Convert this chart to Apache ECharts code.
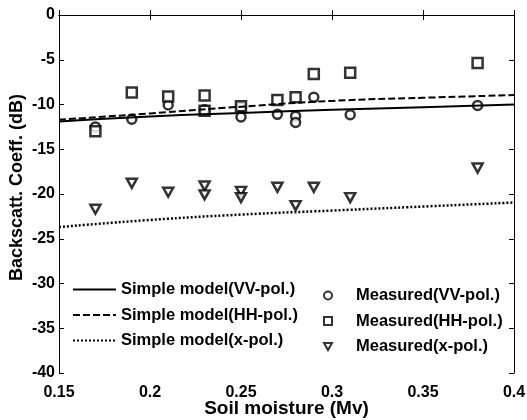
<!DOCTYPE html>
<html>
<head>
<meta charset="utf-8">
<script src="https://cdn.jsdelivr.net/npm/echarts@6/dist/echarts.min.js"></script>
<style>
  html, body { margin: 0; padding: 0; background: #fff; }
  #chart { width: 527px; height: 420px; }
</style>
</head>
<body>
<div id="chart"></div>
<script>
// soil moisture grid for the model curves
const modelX = [0.15, 0.2, 0.25, 0.3, 0.35, 0.4];
const modelVV = [-11.9, -11.35, -10.95, -10.6, -10.3, -10.0];
const modelHH = [-11.7, -11.0, -10.25, -9.6, -9.25, -8.95];
const modelX_pol = [-23.7, -22.9, -22.3, -21.85, -21.4, -20.95];

// measured points
const vvX = [0.17, 0.19, 0.21, 0.23, 0.25, 0.25, 0.27, 0.28, 0.28, 0.29, 0.31, 0.38];
const vvY = [-12.5, -11.65, -10.05, -10.6, -10.3, -11.4, -11.1, -11.3, -12.0, -9.2, -11.15, -10.1];
const hhX = [0.17, 0.19, 0.21, 0.23, 0.23, 0.25, 0.27, 0.28, 0.29, 0.31, 0.38];
const hhY = [-13.0, -8.65, -9.1, -9.0, -10.7, -10.2, -9.5, -9.2, -6.6, -6.45, -5.35];
const xpX = [0.17, 0.19, 0.21, 0.23, 0.23, 0.25, 0.25, 0.27, 0.28, 0.29, 0.31, 0.38];
const xpY = [-21.7, -18.8, -19.8, -19.1, -20.1, -19.7, -20.4, -19.25, -21.3, -19.25, -20.4, -17.1];

const xTicks = [0.15, 0.2, 0.25, 0.3, 0.35, 0.4];
const yTicks = [-40, -35, -30, -25, -20, -15, -10, -5, 0];

const font = '"Liberation Sans", Arial, sans-serif';

function pairs(xs, ys) {
  return xs.map((x, i) => [x, ys[i]]);
}

const chart = echarts.init(document.getElementById('chart'));

const lineAxis = {
  lineStyle: { color: '#000', width: 1 }
};
const tickIn = { show: true, inside: true, length: 5, lineStyle: { color: '#000' } };

const hollow = { color: '#fff', borderColor: '#000', borderWidth: 2.5 };
const triangle = 'path://M0,0L10,0L5,9Z';

chart.setOption({
  backgroundColor: '#fff',
  animation: false,
  grid: { left: 59, right: 13, top: 15, bottom: 47, outerBoundsMode: 'none' },
  xAxis: [
    {
      type: 'value',
      position: 'bottom',
      min: xTicks[0],
      max: xTicks[xTicks.length - 1],
      interval: 0.05,
      name: 'Soil moisture (Mv)',
      nameLocation: 'middle',
      nameGap: 26,
      nameMoveOverlap: false,
      nameTextStyle: { fontFamily: font, fontWeight: 'bold', fontSize: 19, color: '#000' },
      axisLine: lineAxis,
      axisTick: tickIn,
      splitLine: { show: false },
      axisLabel: { fontFamily: font, fontWeight: 'bold', fontSize: 16, color: '#000', margin: 12 }
    },
    {
      type: 'value',
      position: 'top',
      min: xTicks[0],
      max: xTicks[xTicks.length - 1],
      interval: 0.05,
      axisLine: lineAxis,
      axisTick: tickIn,
      splitLine: { show: false },
      axisLabel: { show: false }
    }
  ],
  yAxis: [
    {
      type: 'value',
      position: 'left',
      min: yTicks[0],
      max: yTicks[yTicks.length - 1],
      interval: 5,
      name: 'Backscatt. Coeff. (dB)',
      nameLocation: 'middle',
      nameGap: 33,
      nameMoveOverlap: false,
      nameTextStyle: {
        fontFamily: font, fontWeight: 'bold', fontSize: 18, color: '#000',
        padding: [0, 0, 0, 13]
      },
      axisLine: lineAxis,
      axisTick: tickIn,
      splitLine: { show: false },
      axisLabel: { fontFamily: font, fontWeight: 'bold', fontSize: 16, color: '#000', margin: 4 }
    },
    {
      type: 'value',
      position: 'right',
      min: yTicks[0],
      max: yTicks[yTicks.length - 1],
      interval: 5,
      axisLine: lineAxis,
      axisTick: tickIn,
      splitLine: { show: false },
      axisLabel: { show: false }
    }
  ],
  legend: [
    {
      orient: 'vertical',
      left: 72,
      top: 281,
      padding: 0,
      itemWidth: 43,
      itemHeight: 14,
      itemGap: 8.5,
      itemStyle: { color: 'rgba(0,0,0,0)', borderWidth: 0 },
      textStyle: { fontFamily: font, fontWeight: 'bold', fontSize: 16.5, color: '#000', lineHeight: 16 },
      data: ['Simple model(VV-pol.)', 'Simple model(HH-pol.)', 'Simple model(x-pol.)']
    },
    {
      orient: 'vertical',
      left: 323,
      top: 287,
      padding: 0,
      itemWidth: 8,
      itemHeight: 8,
      itemGap: 8.5,
      textStyle: {
        fontFamily: font, fontWeight: 'bold', fontSize: 16.5, color: '#000', lineHeight: 16,
        padding: [0, 0, 0, 19]
      },
      data: ['Measured(VV-pol.)', 'Measured(HH-pol.)', 'Measured(x-pol.)']
    }
  ],
  series: [
    {
      name: 'Simple model(VV-pol.)',
      type: 'line',
      smooth: true,
      symbol: 'none',
      lineStyle: { color: '#000', width: 2, type: 'solid' },
      itemStyle: { color: '#000' },
      data: pairs(modelX, modelVV)
    },
    {
      name: 'Simple model(HH-pol.)',
      type: 'line',
      smooth: true,
      symbol: 'none',
      lineStyle: { color: '#000', width: 2, type: [7, 3] },
      itemStyle: { color: '#000' },
      data: pairs(modelX, modelHH)
    },
    {
      name: 'Simple model(x-pol.)',
      type: 'line',
      smooth: true,
      symbol: 'none',
      lineStyle: { color: '#000', width: 2.5, type: [2, 2] },
      itemStyle: { color: '#000' },
      data: pairs(modelX, modelX_pol)
    },
    {
      name: 'Measured(VV-pol.)',
      type: 'scatter',
      symbol: 'circle',
      symbolSize: 9,
      itemStyle: hollow,
      data: pairs(vvX, vvY)
    },
    {
      name: 'Measured(HH-pol.)',
      type: 'scatter',
      symbol: 'rect',
      symbolSize: 10,
      itemStyle: hollow,
      data: pairs(hhX, hhY)
    },
    {
      name: 'Measured(x-pol.)',
      type: 'scatter',
      symbol: triangle,
      symbolSize: [10, 9],
      itemStyle: hollow,
      data: pairs(xpX, xpY)
    }
  ]
});
</script>
</body>
</html>
